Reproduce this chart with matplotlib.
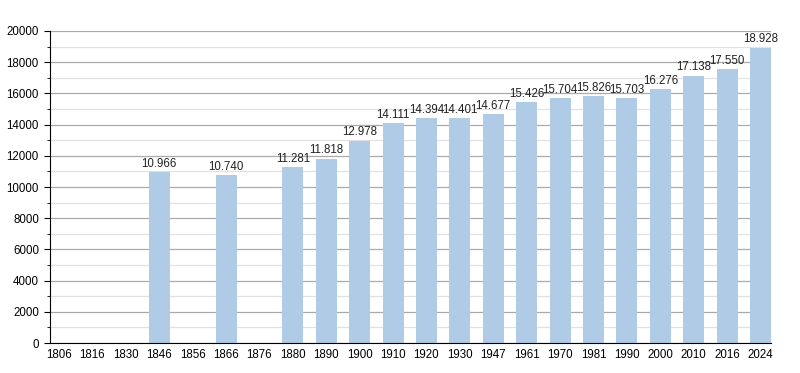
import numpy as np
import matplotlib.pyplot as plt
from matplotlib.ticker import MultipleLocator

plt.rcParams["font.family"] = ["Liberation Sans", "DejaVu Sans"]

years = ["1806", "1816", "1830", "1846", "1856", "1866", "1876", "1880", "1890",
         "1900", "1910", "1920", "1930", "1947", "1961", "1970", "1981", "1990",
         "2000", "2010", "2016", "2024"]
population = [None, None, None, 10966, None, 10740, None, 11281, 11818,
              12978, 14111, 14394, 14401, 14677, 15426, 15704, 15826, 15703,
              16276, 17138, 17550, 18928]

fig = plt.figure(figsize=(8, 3.73), dpi=100)
ax = fig.add_axes([0.0625, 0.0804, 0.9015, 0.8365])

x = np.arange(len(years))
for i, v in enumerate(population):
    if v is None:
        continue
    ax.bar(x[i], v, width=0.63, color="#b0cbe5", zorder=2)
    ax.text(x[i], v + 150, f"{v:,}".replace(",", "."), ha="center", va="bottom",
            fontsize=8.3, color="#222222", zorder=3)

ax.set_xlim(-0.27, len(years) - 0.68)
ax.set_ylim(0, 20000)
ax.yaxis.set_major_locator(MultipleLocator(2000))
ax.yaxis.set_minor_locator(MultipleLocator(1000))
ax.grid(axis="y", which="major", color="#aaaaaa", linewidth=0.9, zorder=0)
ax.grid(axis="y", which="minor", color="#e2e2e2", linewidth=0.9, zorder=0)

ax.set_xticks(x)
ax.set_xticklabels(years)
ax.tick_params(axis="x", length=0, labelsize=8.3, pad=4)
ax.tick_params(axis="y", which="major", length=4, labelsize=8.3, pad=4)
ax.tick_params(axis="y", which="minor", length=2)

for s in ["top", "right"]:
    ax.spines[s].set_visible(False)
ax.spines["left"].set_color("black")
ax.spines["bottom"].set_color("black")

fig.savefig("out.png", dpi=100)
